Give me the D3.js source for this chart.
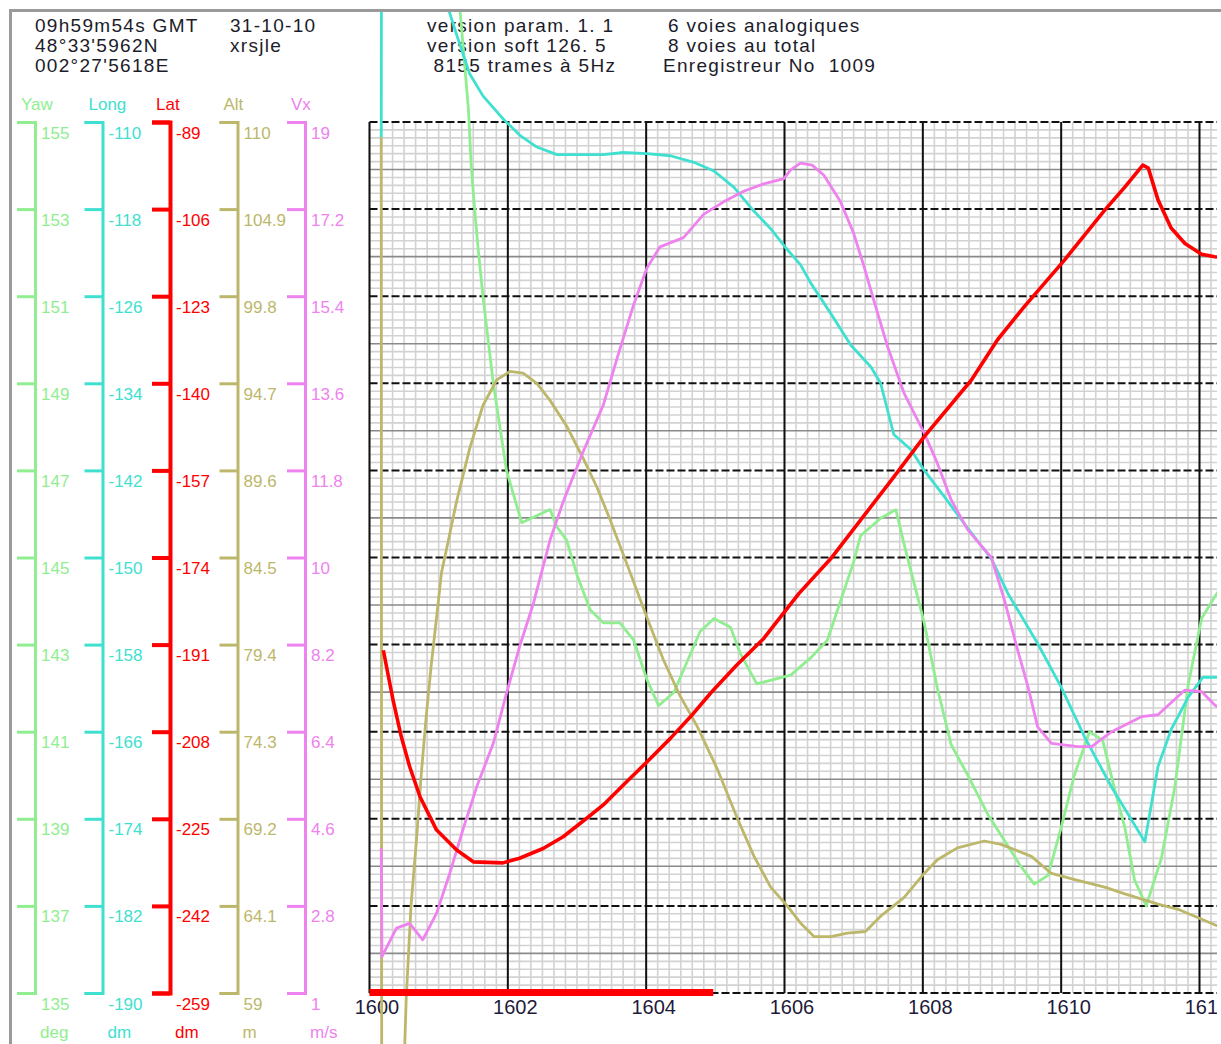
<!DOCTYPE html>
<html>
<head>
<meta charset="utf-8">
<script src="https://cdn.jsdelivr.net/npm/d3@7/dist/d3.min.js"></script>
<style>
html, body { margin: 0; padding: 0; background: #fff; overflow: hidden; }
svg { display: block; font-family: "Liberation Sans", Arial, sans-serif; }
</style>
</head>
<body>
<div id="chart"></div>
<script>
const W = 1221, H = 1044;

// header texts
const headerLeft = ["09h59m54s GMT", "48°33'5962N", "002°27'5618E"];
const headerMid = ["31-10-10", "xrsjle"];
const headerRight = ["version param. 1. 1", "version soft 126. 5", " 8155 trames à 5Hz"];
const headerFar = ["6 voies analogiques", "8 voies au total", "Enregistreur No  1009"];

// channels
const channels = ["Yaw", "Long", "Lat", "Alt", "Vx"];
const units = ["deg", "dm", "dm", "m", "m/s"];
const yawTicks = ["155", "153", "151", "149", "147", "145", "143", "141", "139", "137", "135"];
const longTicks = ["-110", "-118", "-126", "-134", "-142", "-150", "-158", "-166", "-174", "-182", "-190"];
const latTicks = ["-89", "-106", "-123", "-140", "-157", "-174", "-191", "-208", "-225", "-242", "-259"];
const altTicks = ["110", "104.9", "99.8", "94.7", "89.6", "84.5", "79.4", "74.3", "69.2", "64.1", "59"];
const vxTicks = ["19", "17.2", "15.4", "13.6", "11.8", "10", "8.2", "6.4", "4.6", "2.8", "1"];

const xTicks = [1600, 1602, 1604, 1606, 1608, 1610, 1612];
const timeRange = [1600, 1604.97];

// series [time, value]
const yawData = [[1601.27,158.3],[1601.43,155.3],[1601.47,154.0],[1601.52,153.0],[1601.57,152.1],[1601.64,151.0],[1601.79,149.0],[1601.98,147.0],[1602.20,145.8],[1602.61,146.1],[1602.71,145.7],[1602.85,145.4],[1603.00,144.6],[1603.19,143.8],[1603.38,143.5],[1603.62,143.5],[1603.82,143.1],[1604.01,142.2],[1604.18,141.6],[1604.40,141.9],[1604.59,142.6],[1604.78,143.3],[1604.98,143.6],[1605.22,143.4],[1605.36,142.8],[1605.60,142.1],[1605.85,142.2],[1606.09,142.3],[1606.38,142.7],[1606.62,143.1],[1606.81,144.0],[1607.00,144.9],[1607.10,145.5],[1607.39,145.9],[1607.61,146.1],[1607.73,145.3],[1608.02,143.5],[1608.21,142.0],[1608.41,140.7],[1608.65,140.0],[1608.94,139.1],[1609.18,138.5],[1609.42,137.9],[1609.61,137.5],[1609.81,137.7],[1610.00,138.8],[1610.19,140.0],[1610.41,141.0],[1610.60,140.8],[1610.77,139.7],[1610.92,138.8],[1611.06,137.6],[1611.23,137.0],[1611.45,138.1],[1611.64,139.7],[1611.84,142.1],[1612.03,143.6],[1612.22,144.1],[1612.39,144.5]];

const longData = [[1600.17,-111.4],[1600.18,-62.1],[1600.96,-96.0],[1601.26,-102.0],[1601.45,-105.6],[1601.64,-107.6],[1601.93,-109.7],[1602.17,-111.2],[1602.42,-112.3],[1602.71,-113.0],[1603.38,-113.0],[1603.67,-112.8],[1604.01,-112.9],[1604.35,-113.1],[1604.69,-113.7],[1604.98,-114.5],[1605.27,-116.0],[1605.56,-118.2],[1605.80,-119.8],[1606.01,-121.5],[1606.23,-123.1],[1606.38,-124.8],[1606.67,-127.6],[1606.96,-130.5],[1607.25,-132.5],[1607.39,-134.0],[1607.58,-138.7],[1607.83,-140.1],[1608.02,-142.0],[1608.31,-144.4],[1608.60,-146.9],[1608.99,-150.1],[1609.23,-153.3],[1609.66,-157.9],[1610.00,-161.9],[1610.34,-166.5],[1610.73,-171.1],[1611.21,-176.1],[1611.40,-169.2],[1611.59,-165.8],[1611.84,-162.8],[1612.05,-161.0],[1612.22,-161.0],[1612.39,-161.0]];

const latData = [[1600.20,-192.1],[1600.34,-201.8],[1600.46,-209.0],[1600.58,-214.8],[1600.73,-220.7],[1600.97,-227.2],[1601.26,-231.1],[1601.50,-233.4],[1601.93,-233.6],[1602.17,-232.7],[1602.51,-230.8],[1602.80,-228.5],[1603.14,-224.9],[1603.38,-222.3],[1603.67,-218.4],[1604.01,-213.9],[1604.35,-209.3],[1604.64,-205.1],[1604.93,-200.5],[1605.31,-195.0],[1605.70,-189.8],[1606.21,-181.0],[1606.67,-174.2],[1607.54,-159.0],[1608.02,-150.4],[1608.70,-139.4],[1609.08,-131.5],[1609.47,-125.0],[1610.05,-115.9],[1610.63,-106.2],[1610.92,-101.7],[1611.18,-97.4],[1611.26,-98.0],[1611.40,-104.2],[1611.59,-109.7],[1611.79,-112.7],[1612.03,-114.8],[1612.22,-115.3],[1612.39,-115.5]];

const altData = [[1600.17,109.1],[1600.18,23.5],[1600.51,56.0],[1600.53,58.6],[1600.60,64.1],[1600.68,68.0],[1600.75,71.9],[1600.82,75.2],[1600.89,78.1],[1600.97,81.0],[1601.04,83.6],[1601.14,85.5],[1601.26,87.8],[1601.45,90.9],[1601.64,93.4],[1601.84,94.9],[1602.03,95.4],[1602.22,95.3],[1602.42,94.7],[1602.61,93.7],[1602.85,92.2],[1603.09,90.3],[1603.29,88.6],[1603.48,86.7],[1603.77,83.6],[1604.01,81.0],[1604.25,78.5],[1604.49,76.4],[1604.74,74.6],[1605.03,72.1],[1605.31,69.3],[1605.56,67.0],[1605.80,65.2],[1606.04,64.1],[1606.23,63.1],[1606.43,62.3],[1606.67,62.3],[1606.91,62.5],[1607.17,62.6],[1607.39,63.5],[1607.73,64.6],[1608.02,66.0],[1608.21,66.8],[1608.50,67.5],[1608.89,67.9],[1609.13,67.7],[1609.57,67.0],[1609.86,66.0],[1610.24,65.6],[1610.63,65.2],[1610.92,64.8],[1611.40,64.2],[1611.69,63.9],[1612.22,63.0],[1612.39,62.7]];

const vxData = [[1600.17,3.99],[1600.18,1.75],[1600.39,2.34],[1600.58,2.44],[1600.77,2.10],[1600.97,2.65],[1601.16,3.47],[1601.35,4.37],[1601.55,5.26],[1601.79,6.16],[1601.98,7.19],[1602.17,8.16],[1602.37,9.05],[1602.61,10.36],[1602.80,11.15],[1603.09,12.19],[1603.38,13.15],[1603.58,14.12],[1603.82,15.23],[1604.01,15.98],[1604.20,16.42],[1604.54,16.61],[1604.83,17.09],[1605.12,17.35],[1605.41,17.57],[1605.70,17.72],[1605.99,17.83],[1606.09,18.01],[1606.23,18.15],[1606.40,18.11],[1606.57,17.90],[1606.81,17.35],[1607.00,16.70],[1607.15,16.01],[1607.29,15.32],[1607.49,14.36],[1607.73,13.39],[1608.02,12.57],[1608.21,11.95],[1608.41,11.19],[1608.65,10.57],[1608.99,10.00],[1609.18,9.12],[1609.37,8.09],[1609.52,7.33],[1609.66,6.50],[1609.86,6.16],[1610.24,6.09],[1610.44,6.09],[1610.73,6.40],[1611.16,6.71],[1611.40,6.75],[1611.79,7.26],[1612.03,7.23],[1612.22,6.95],[1612.39,6.81]];

// styles
const colors = ["#90ee90", "#40e0d0", "#ff0000", "#bdb76b", "#ee82ee"];
const axisX = [35, 102.5, 170, 237.5, 305];
const tickLists = [yawTicks, longTicks, latTicks, altTicks, vxTicks];
const seriesList = [yawData, longData, latData, altData, vxData];

const plotTop = 122, plotBottom = 993, plotLeft = 369.5, plotRight = 1217;

const svg = d3.select("#chart").append("svg")
    .attr("width", W)
    .attr("height", H);

svg.append("rect").attr("width", W).attr("height", H).attr("fill", "#fff");

const defs = svg.append("defs");
defs.append("clipPath").attr("id", "frameClip")
    .append("rect").attr("x", 12).attr("y", 12).attr("width", plotRight - 12).attr("height", H - 12);
defs.append("clipPath").attr("id", "plotClip")
    .append("rect").attr("x", 0).attr("y", 0).attr("width", plotRight).attr("height", H);

// scales
const x = d3.scaleLinear().domain([1600, 1612]).range([plotLeft, 1199.5]);
const grid = d3.scaleLinear().domain([0, 10]).range([plotTop, plotBottom]);
const yScales = tickLists.map(t => d3.scaleLinear()
    .domain([+t[t.length - 1], +t[0]])
    .range([plotBottom, plotTop]));

// outer frame
svg.append("rect")
    .attr("x", 10.5).attr("y", 10.5)
    .attr("width", 1400).attr("height", 1400)
    .attr("fill", "none")
    .attr("stroke", "#9a9a9a")
    .attr("stroke-width", 3);

// grid
const gGrid = svg.append("g").attr("clip-path", "url(#plotClip)");
const minorX = d3.range(0, 80).map(i => 1600 + i / 6).filter(t => x(t) <= plotRight);
const rowsY = d3.range(0, 111).map(k => k / 11);

gGrid.selectAll("line.vminor").data(minorX).join("line")
    .attr("x1", d => x(d)).attr("x2", d => x(d))
    .attr("y1", plotTop).attr("y2", plotBottom)
    .attr("stroke", "#d2d2d2").attr("stroke-width", 1.6);

gGrid.selectAll("line.hminor").data(rowsY.filter((d, k) => k % 11 !== 0 && k % 11 !== 6)).join("line")
    .attr("x1", plotLeft).attr("x2", plotRight)
    .attr("y1", d => grid(d)).attr("y2", d => grid(d))
    .attr("stroke", "#d2d2d2").attr("stroke-width", 1.6);

gGrid.selectAll("line.hmid").data(rowsY.filter((d, k) => k % 11 === 6)).join("line")
    .attr("x1", plotLeft).attr("x2", plotRight)
    .attr("y1", d => grid(d)).attr("y2", d => grid(d))
    .attr("stroke", "#8a8a8a").attr("stroke-width", 1.6);

gGrid.selectAll("line.vmajor").data(d3.range(1600, 1614, 2)).join("line")
    .attr("x1", d => x(d)).attr("x2", d => x(d))
    .attr("y1", plotTop).attr("y2", plotBottom)
    .attr("stroke", "#111").attr("stroke-width", 2);

gGrid.selectAll("line.hmajor").data(d3.range(0, 11)).join("line")
    .attr("x1", plotLeft).attr("x2", plotRight)
    .attr("y1", d => grid(d)).attr("y2", d => grid(d))
    .attr("stroke", "#111").attr("stroke-width", 2)
    .attr("stroke-dasharray", "8,3");

// header
const header = svg.append("g")
    .style("font-size", "19px")
    .style("letter-spacing", "1.3px")
    .attr("fill", "#1c1c2a");
const lineY = [32, 52, 72];
[[headerLeft, 35], [headerMid, 230], [headerRight, 427], [headerFar, 668]].forEach(([lines, hx]) => {
    lines.forEach((s, i) => {
        header.append("text")
            .attr("xml:space", "preserve")
            .style("white-space", "pre")
            .attr("x", s.startsWith("Enreg") ? hx - 5 : hx)
            .attr("y", lineY[i])
            .text(s);
    });
});

// left axes
channels.forEach((name, i) => {
    const c = colors[i];
    const sw = name === "Lat" ? 4 : 3;
    const ticks = tickLists[i];
    const g = svg.append("g").attr("transform", `translate(${axisX[i]},0)`);
    g.call(d3.axisLeft(yScales[i])
        .tickValues(ticks.map(Number))
        .tickFormat((d, j) => ticks[j])
        .tickSize(18)
        .tickSizeOuter(18));
    g.attr("font-family", null).attr("font-size", null);
    g.selectAll("path.domain").attr("stroke", c).attr("stroke-width", sw).attr("fill", "none");
    g.selectAll(".tick line").attr("stroke", c).attr("stroke-width", sw);
    g.selectAll(".tick text")
        .attr("x", 6).attr("y", 16).attr("dy", 0)
        .attr("text-anchor", "start")
        .attr("fill", c)
        .style("font-size", "17px");

    svg.append("text")
        .attr("x", axisX[i] - 14).attr("y", 110)
        .attr("fill", c).style("font-size", "17px")
        .text(name);
    svg.append("text")
        .attr("x", axisX[i] + 5).attr("y", 1038)
        .attr("fill", c).style("font-size", "17px")
        .text(units[i]);
});

// x axis labels (cut at the window edge like the source)
const gxWrap = svg.append("g").attr("clip-path", "url(#plotClip)");
const gx = gxWrap.append("g")
    .attr("transform", `translate(7,${plotBottom})`);
gx.call(d3.axisBottom(x).tickValues(xTicks).tickFormat(d3.format("d")).tickSize(0));
gx.attr("font-family", null).attr("font-size", null);
gx.select("path.domain").remove();
gx.selectAll(".tick text")
    .attr("y", 21).attr("dy", 0)
    .attr("fill", "#1e1a3a")
    .style("font-size", "20px");

// series
const gSeries = svg.append("g").attr("clip-path", "url(#frameClip)");
[0, 1, 3, 4, 2].forEach(i => {
    const line = d3.line()
        .x(d => x(d[0]))
        .y(d => yScales[i](d[1]));
    gSeries.append("path")
        .datum(seriesList[i])
        .attr("d", line)
        .attr("fill", "none")
        .attr("stroke", colors[i])
        .attr("stroke-width", i === 2 ? 3.6 : 2.8)
        .attr("stroke-linejoin", "round");
});

// recorded time range bar
svg.append("line")
    .attr("x1", x(timeRange[0])).attr("x2", x(timeRange[1]))
    .attr("y1", plotBottom - 0.5).attr("y2", plotBottom - 0.5)
    .attr("stroke", "#ff0000")
    .attr("stroke-width", 7);
</script>
</body>
</html>
